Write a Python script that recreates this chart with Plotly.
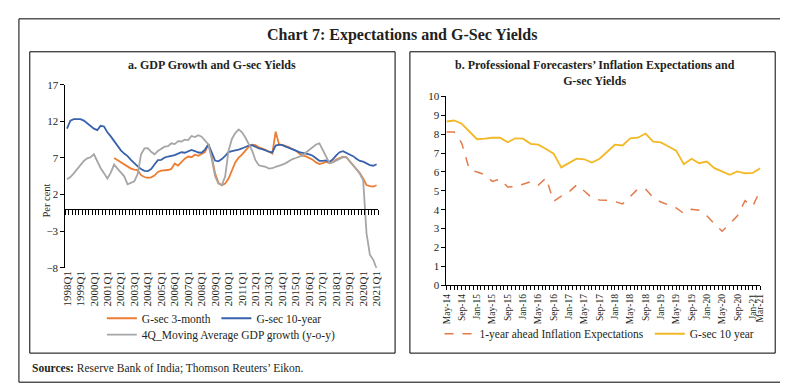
import plotly.graph_objects as go
import numpy as np

W, H = 788, 386
FONT = "Liberation Serif"
def px(x):
    return x / W
def py(y):
    return 1 - y / H

# ---------------- Panel a data (quarterly, 1998Q1 .. 2021Q1) ----------------
quarters = [f"{y}Q{q}" for y in range(1998, 2022) for q in (1, 2, 3, 4)][:93]
q_idx = list(range(len(quarters)))
year_ticks = q_idx[::4]
year_labels = quarters[::4]

gsec_10y = [11.0, 12.1, 12.3, 12.3, 12.3, 12.1, 11.7, 11.4, 11.0, 10.8,
            11.4, 11.3, 10.5, 9.95, 9.3, 8.6, 8.05, 7.6, 7.25, 6.75,
            6.25, 5.85, 5.5, 5.25, 5.2, 5.5, 6.1, 6.7, 6.75, 7.05,
            7.2, 7.28, 7.4, 7.6, 7.78, 7.72, 7.95, 8.1, 7.95, 7.75,
            7.72, 8.15, 8.85, 7.7, 6.65, 6.55, 6.85, 7.3, 7.8, 7.95,
            8.03, 8.15, 8.3, 8.5, 8.7, 8.75, 8.5, 8.3, 8.2, 8.0,
            7.85, 7.75, 8.7, 8.81, 8.75, 8.55, 8.4, 8.2, 8.0, 7.8,
            7.7, 7.7, 7.5, 7.3, 6.95, 6.62, 6.6, 6.68, 6.47, 6.82,
            7.35, 7.79, 7.93, 7.7, 7.48, 7.25, 6.9, 6.6, 6.5, 6.28,
            6.02, 5.94, 6.15]

gsec_3m = [None] * 14 + [
            7.0, 6.7, 6.4, 6.1, 5.85, 5.55, 5.4, 5.35, 4.65, 4.4,
            4.3, 4.35, 4.6, 5.1, 5.27, 5.3, 5.36, 5.5, 6.25, 5.95,
            6.5, 6.9, 7.2, 7.1, 7.45, 7.3, 7.55, 7.8, 8.9, 7.2,
            4.9, 3.6, 3.28, 3.5, 4.2, 5.2, 6.4, 7.05, 7.45, 8.0,
            8.55, 8.8, 8.75, 8.45, 8.3, 8.1, 7.85, 7.6, 10.6, 8.85,
            8.8, 8.65, 8.45, 8.2, 8.0, 7.6, 7.33, 7.22, 7.0, 6.75,
            6.4, 6.18, 6.3, 6.45, 6.3, 6.45, 6.78, 6.95, 7.17, 7.1,
            6.6, 6.1, 5.6, 4.95, 4.2, 3.3, 3.15, 3.1, 3.28]

gdp_ma = [4.1, 4.4, 4.9, 5.5, 6.1, 6.6, 6.95, 7.1, 7.5, 6.5,
          5.6, 4.9, 4.2, 5.0, 6.1, 5.55, 5.0, 4.5, 3.4, 3.64,
          3.82, 4.8, 7.5, 8.3, 8.35, 7.85, 7.5, 7.95, 8.2, 8.55,
          8.6, 9.0, 8.9, 9.3, 9.25, 9.5, 9.45, 10.0, 9.85, 10.1,
          9.9, 9.4, 8.85, 6.9, 4.5, 3.5, 3.28, 4.5, 8.0, 9.6,
          10.4, 10.9, 10.5, 9.8, 9.0, 8.0, 6.7, 6.0, 5.9, 5.8,
          5.55, 5.6, 5.8, 5.9, 6.1, 6.3, 6.6, 6.85, 7.0, 7.2,
          7.35, 7.75, 8.15, 8.55, 8.85, 9.0, 8.1, 7.2, 6.3, 6.4,
          6.65, 6.9, 7.1, 7.1, 6.6, 6.0, 5.45, 4.85, 4.0, -3.3,
          -6.2, -6.9, -8.1]

# ---------------- Panel b data (bi-monthly survey rounds, May-14 .. Mar-21) ----------------
months = ["May", "Jul", "Sep", "Nov", "Jan", "Mar"]
rounds = []
yy, mi = 14, 0
while True:
    rounds.append(f"{months[mi]}-{yy:02d}")
    if rounds[-1] == "Mar-21":
        break
    mi = (mi + 1) % 6
    if months[mi] == "Jan":
        yy += 1
r_idx = list(range(len(rounds)))

infl_exp = [8.12, 8.12, 7.52, 6.12, 6.0, 5.85, 5.50, 5.62, 5.20, 5.22,
            5.35, 5.48, 5.30, 5.68, 4.45, 4.72, 4.94, 5.31, 4.99, 4.63,
            4.51, 4.50, 4.43, 4.31, 4.70, 5.10, 5.10, 4.65, 4.41, 4.24,
            4.10, 3.80, 4.02, 3.97, 3.68, 3.25, 2.86, 3.25, 3.68, 4.48,
            4.19, 5.04]

gsec_10yr_b = [8.67, 8.72, 8.55, 8.12, 7.73, 7.76, 7.81, 7.81, 7.57, 7.78,
               7.76, 7.49, 7.44, 7.21, 6.97, 6.24, 6.46, 6.70, 6.67, 6.50,
               6.70, 7.05, 7.44, 7.40, 7.78, 7.81, 8.03, 7.60, 7.56, 7.35,
               7.13, 6.41, 6.70, 6.46, 6.55, 6.20, 6.02, 5.85, 6.03, 5.93,
               5.95, 6.19]

b_tickvals = [i for i in r_idx if i % 2 == 0] + [r_idx[-1]]
b_all_vals = list(np.arange(0, len(rounds) - 0.99, 0.5))
b_all_text = [rounds[int(v)] if (v in b_tickvals) else "" for v in b_all_vals]

# ---------------- Figure ----------------
fig = go.Figure()

C_OR = "#ED7D31"
C_BL = "#3862AC"
C_GR = "#A6A6A6"
C_YE = "#F3B826"
C_DA = "#E27A4B"

fig.add_trace(go.Scatter(x=q_idx, y=gsec_3m, name="G-sec 3-month", mode="lines",
                         line=dict(color=C_OR, width=1.8), xaxis="x", yaxis="y",
                         legend="legend"))
fig.add_trace(go.Scatter(x=q_idx, y=gsec_10y, name="G-sec 10-year", mode="lines",
                         line=dict(color=C_BL, width=1.8), xaxis="x", yaxis="y",
                         legend="legend4"))
fig.add_trace(go.Scatter(x=q_idx, y=gdp_ma, name="4Q_Moving Average GDP growth (y-o-y)",
                         mode="lines", line=dict(color=C_GR, width=1.8),
                         xaxis="x3", yaxis="y", legend="legend2"))

fig.add_trace(go.Scatter(x=r_idx, y=infl_exp, name="1-year ahead Inflation Expectations",
                         mode="lines", line=dict(color=C_DA, width=1.5, dash="dash"),
                         xaxis="x2", yaxis="y2", legend="legend3"))
fig.add_trace(go.Scatter(x=r_idx, y=gsec_10yr_b, name="G-sec 10 year", mode="lines",
                         line=dict(color=C_YE, width=1.8),
                         xaxis="x2", yaxis="y2", legend="legend5"))

# axes geometry
ya_dom = [py(262), py(73)]
ya_rng = [-8, 17]
zero_pos = ya_dom[0] + (0 - ya_rng[0]) / (ya_rng[1] - ya_rng[0]) * (ya_dom[1] - ya_dom[0])
xa_rng = [-0.5, len(quarters) - 0.5]

tickfont_a = dict(family=FONT, size=11, color="#231F20")
tickfont_b = dict(family=FONT, size=9.5, color="#231F20")
legfont = dict(family=FONT, size=11.5, color="#231F20")

def leg(x, y):
    return dict(orientation="h", x=px(x), y=py(y), xanchor="left", yanchor="middle",
                itemwidth=30, font=legfont, bgcolor="rgba(0,0,0,0)")

fig.update_layout(
    width=W, height=H,
    margin=dict(l=0, r=0, t=0, b=0),
    paper_bgcolor="white", plot_bgcolor="white",
    font=dict(family=FONT, color="#231F20"),
    xaxis=dict(domain=[px(53), px(370)], range=xa_rng, anchor="y",
               tickmode="array", tickvals=year_ticks, ticktext=year_labels,
               tickangle=-90, ticks="", showline=False, showgrid=False,
               zeroline=False, tickfont=tickfont_a),
    xaxis3=dict(domain=[px(53), px(370)], range=xa_rng, overlaying="x",
                anchor="free", position=zero_pos, showline=True,
                linecolor="black", linewidth=1, ticks="outside", ticklen=5,
                tickcolor="black", tickwidth=1,
                tickmode="array", tickvals=[i - 0.5 for i in range(len(quarters) + 1)],
                showticklabels=False, showgrid=False, zeroline=False),
    yaxis=dict(domain=ya_dom, range=ya_rng, anchor="x", tick0=-8, dtick=5,
               ticks="outside", ticklen=4, tickcolor="black", showline=True,
               linecolor="black", linewidth=1, showgrid=False, zeroline=False,
               tickfont=tickfont_a),
    xaxis2=dict(domain=[px(439), px(757)], range=[0, len(rounds) - 1], anchor="y2",
                tickmode="array", tickvals=b_all_vals, ticktext=b_all_text,
                tickangle=-90, ticks="outside", ticklen=4, tickcolor="black",
                showline=True, linecolor="black", linewidth=1, showgrid=False,
                zeroline=False, tickfont=tickfont_b),
    yaxis2=dict(domain=[py(280), py(85)], range=[0, 10], anchor="x2", dtick=1,
                ticks="outside", ticklen=4, tickcolor="black", showline=True,
                linecolor="black", linewidth=1, showgrid=False, zeroline=False,
                tickfont=tickfont_a),
    legend=leg(90, 314),
    legend4=leg(206, 314),
    legend2=leg(90, 331),
    legend3=leg(432, 330),
    legend5=leg(645, 330),
    showlegend=True,
)

# frames
shapes = []
for (x0, y0, x1, y1) in [(6, 5, 783, 380), (17, 39, 387, 350), (402, 39, 772, 350)]:
    shapes.append(dict(type="rect", xref="paper", yref="paper",
                       x0=px(x0), x1=px(x1), y0=py(y1), y1=py(y0),
                       line=dict(color="black", width=1), fillcolor="rgba(0,0,0,0)"))
fig.update_layout(shapes=shapes)

ann = [
    dict(text="<b>Chart 7: Expectations and G-Sec Yields</b>", x=px(394), y=py(22),
         font=dict(family=FONT, size=16)),
    dict(text="<b>a. GDP Growth and G-sec Yields</b>", x=px(202), y=py(53),
         font=dict(family=FONT, size=12)),
    dict(text="<b>b. Professional Forecasters’ Inflation Expectations and<br>G-sec Yields</b>",
         x=px(589), y=py(61), font=dict(family=FONT, size=12)),
    dict(text="Per cent", x=px(33), y=py(193), textangle=-90,
         font=dict(family=FONT, size=10.5)),
    dict(text="<b>Sources:</b> Reserve Bank of India; Thomson Reuters’ Eikon.",
         x=px(17), y=py(365), xanchor="left", font=dict(family=FONT, size=11.5)),
]
for a in ann:
    a.setdefault("xanchor", "center")
    a.update(xref="paper", yref="paper", yanchor="middle", showarrow=False)
fig.update_layout(annotations=ann)

fig.write_html("out.html")
